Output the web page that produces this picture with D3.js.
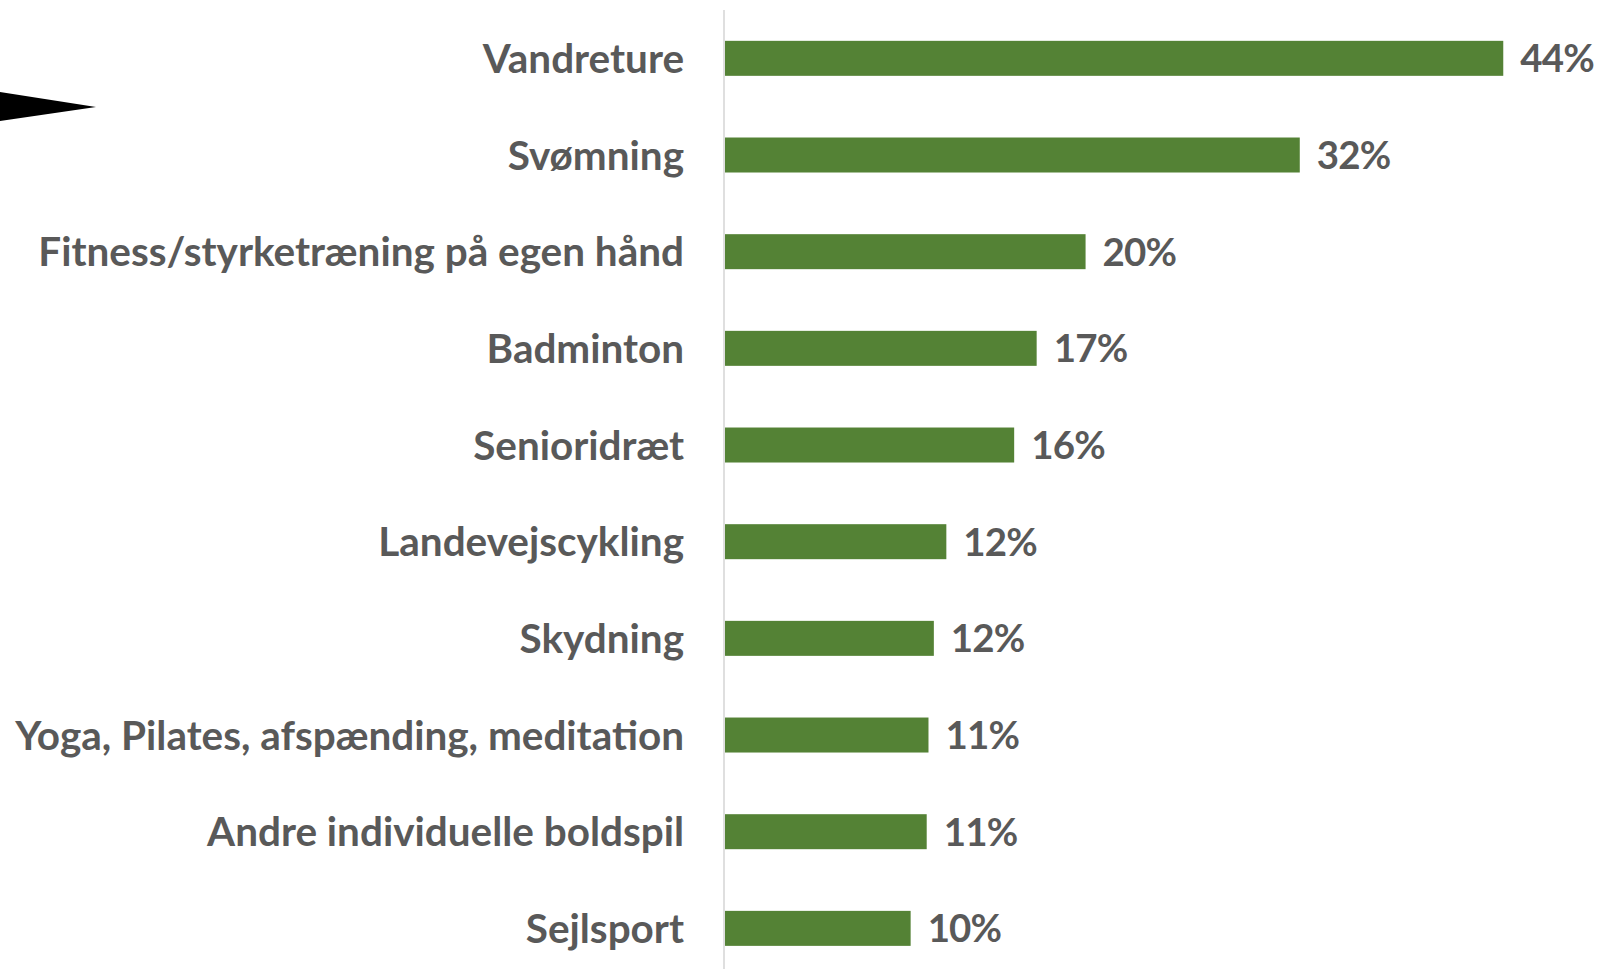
<!DOCTYPE html>
<html>
<head>
  <meta charset="utf-8">
  <script src="https://cdn.jsdelivr.net/npm/d3@7"></script>
  <style>
    body { margin: 0; background: #fff; }
    text { font-family: Lato, "Open Sans", sans-serif; font-weight: 700; fill: #595959; }
  </style>
</head>
<body>
<script>
  // activities, share of respondents (%)
  var categories = [
    "Vandreture",
    "Svømning",
    "Fitness/styrketræning på egen hånd",
    "Badminton",
    "Senioridræt",
    "Landevejscykling",
    "Skydning",
    "Yoga, Pilates, afspænding, meditation",
    "Andre individuelle boldspil",
    "Sejlsport"
  ];
  var values = [43.6, 32.2, 20.2, 17.46, 16.2, 12.4, 11.7, 11.4, 11.3, 10.4];

  var width = 1598, height = 969;

  var svg = d3.select("body").append("svg")
      .attr("width", width)
      .attr("height", height);

  var data = categories.map(function(c, i){ return { name: c, value: values[i] }; });

  var y = d3.scaleBand()
      .domain(categories)
      .range([10, 976.7])
      .paddingInner(0.638)
      .paddingOuter(0.319);

  var x = d3.scaleLinear()
      .domain([0, 44])
      .range([725, 1510.4]);

  // black pointer at the left edge
  svg.append("path")
      .attr("d", d3.line()([[0, 92], [96, 107], [0, 121]]) + "Z")
      .style("fill", "#000");

  // vertical axis line
  svg.append("line")
      .attr("x1", 724).attr("x2", 724)
      .attr("y1", 10).attr("y2", height)
      .style("stroke", "#d4d4d4")
      .style("stroke-width", 1.5);

  svg.selectAll(".bar")
      .data(data)
      .enter()
      .append("rect")
      .attr("class", "bar")
      .attr("x", x(0))
      .attr("y", function(d){ return y(d.name); })
      .attr("width", function(d){ return x(d.value) - x(0); })
      .attr("height", y.bandwidth())
      .style("fill", "#548235");

  var catLabels = svg.selectAll(".cat")
      .data(data)
      .enter()
      .append("text")
      .attr("class", "cat")
      .attr("x", 684)
      .attr("y", function(d){ return y(d.name) + y.bandwidth() / 2; })
      .attr("dy", "0.36em")
      .style("text-anchor", "end")
      .style("font-size", "40px")
      .text(function(d){ return d.name; });

  // fit font size so the longest label spans like the original
  var longest = d3.max(catLabels.nodes(), function(n){ return n.getComputedTextLength(); });
  var fs = 40 * 669 / longest;
  catLabels.style("font-size", fs + "px");

  svg.selectAll(".val")
      .data(data)
      .enter()
      .append("text")
      .attr("class", "val")
      .attr("x", function(d){ return x(d.value) + 17; })
      .attr("y", function(d){ return y(d.name) + y.bandwidth() / 2; })
      .attr("dy", "0.36em")
      .style("font-size", (fs * 0.95) + "px")
      .style("letter-spacing", "-0.8px")
      .text(function(d){ return Math.round(d.value) + "%"; });
</script>
</body>
</html>
